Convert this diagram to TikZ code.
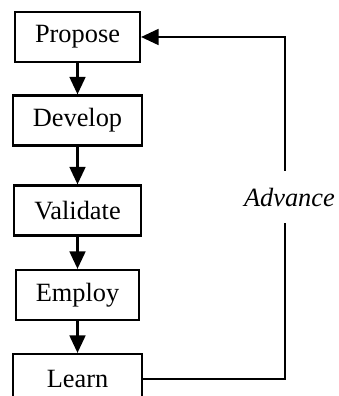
\documentclass[tikz,border=0pt]{standalone}
\usepackage{fontspec}
\setmainfont{Liberation Serif}
\usetikzlibrary{arrows.meta,calc}
\definecolor{ink}{RGB}{0,0,0}
\tikzset{
	flow/.style={-{Triangle[length=2.8mm,width=2.5mm]},line width=1.25pt,draw=ink},
	plainflow/.style={line width=1.25pt,draw=ink},
	stage/.style={draw=ink,line width=0.95pt,align=center,
		minimum height=0.8cm,inner xsep=0.32cm,inner ysep=2pt,text=ink,
		font=\fontsize{12}{14}\selectfont},
}

\begin{document}
\begin{tikzpicture}
		\useasboundingbox (0,0) rectangle (5.408,-6.336);
		\node[stage] (propose) at (1.24,-0.592) {Propose};
		\node[stage] (develop) at (1.24,-1.928) {Develop};
		\node[stage] (validate) at (1.24,-3.368) {Validate};
		\node[stage] (employ) at (1.24,-4.72) {Employ};
		\node[stage,minimum width=2.05cm] (learn) at (1.24,-6.064) {Learn};
		\draw[flow] (propose.south) -- (develop.north);
		\draw[flow] (develop.south) -- (validate.north);
		\draw[flow] (validate.south) -- (employ.north);
		\draw[flow] (employ.south) -- (learn.north);
		
		% feedback loop, broken by its label
		\node[font=\fontsize{12}{14}\itshape,text=ink,minimum height=0.82cm,inner sep=0pt]
		(advance) at (4.63,-3.152) {Advance};
		\coordinate (loop) at (4.56,-0.592);
		\draw[plainflow] (learn.east) -- (learn.east -| loop) -- (loop |- advance.south);
		\draw[flow] (loop |- advance.north) -- (loop) -- (propose.east);
	\end{tikzpicture}
\end{document}
